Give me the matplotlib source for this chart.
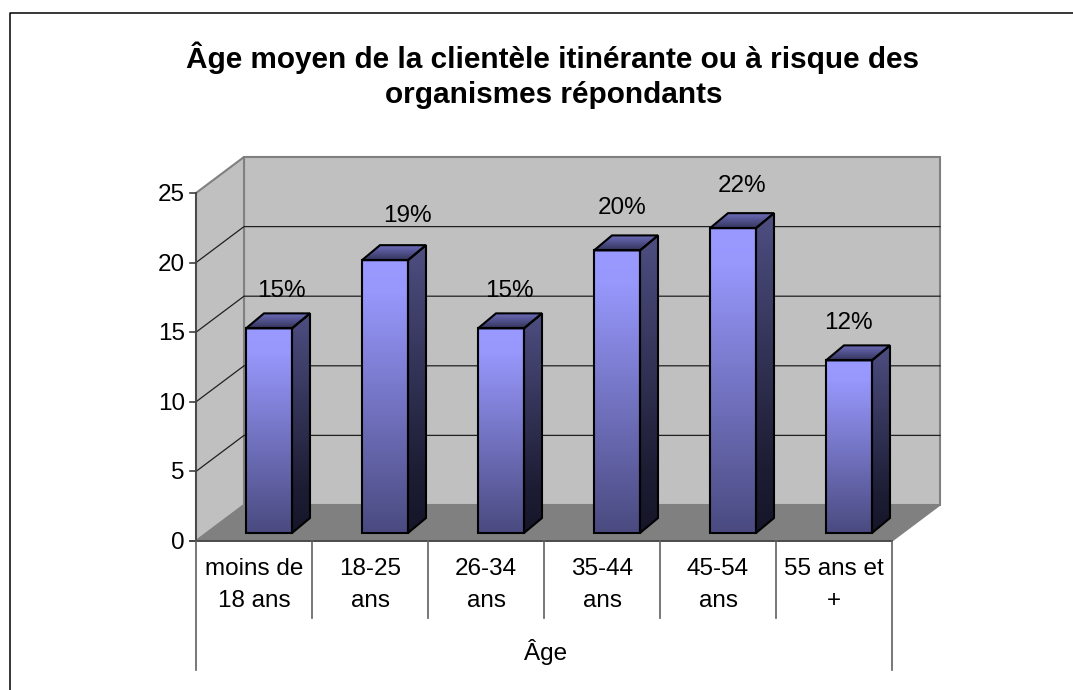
import matplotlib
matplotlib.use('Agg')
import matplotlib.pyplot as plt
from matplotlib.colors import LinearSegmentedColormap
from matplotlib.lines import Line2D
from matplotlib.patches import Polygon
import numpy as np

plt.rcParams['font.family'] = ['Liberation Sans', 'DejaVu Sans']

#==============================

title_lines = ['Âge moyen de la clientèle itinérante ou à risque des', 'organismes répondants']
categories = ['moins de\n18 ans', '18-25\nans', '26-34\nans', '35-44\nans', '45-54\nans', '55 ans et\n+']
values = [14.7, 19.6, 14.7, 20.3, 21.9, 12.4]
labels = ['15%', '19%', '15%', '20%', '22%', '12%']
y_ticks = [0, 5, 10, 15, 20, 25]
group_label = 'Âge'

#==============================

W, H = 1073, 690
fig = plt.figure(figsize=(W / 100, H / 100), dpi=100)
ax = fig.add_axes([196 / W, (H - 541) / H, 696 / W, 348 / H])
ax.set_xlim(0, 6)
ax.set_ylim(0, 25)
ax.axis('off')

px = 6 / 696   # data units per pixel
py = 25 / 348
depth_x, depth_y = 48 * px, 36 * py

gray = '#808080'
wall = '#c0c0c0'
fs = 17.5

# chart frame: only top and left are inside the picture
fig.add_artist(Line2D([9.5 / W, 9.5 / W, 1], [0, 1 - 12.5 / H, 1 - 12.5 / H], color='black', lw=1.1))

# walls and floor
ax.add_patch(Polygon([(depth_x, depth_y), (6 + depth_x, depth_y), (6 + depth_x, 25 + depth_y), (depth_x, 25 + depth_y)],
                     fc=wall, ec=gray, lw=1.5, clip_on=False, zorder=1))
ax.add_patch(Polygon([(0, 0), (depth_x, depth_y), (depth_x, 25 + depth_y), (0, 25)],
                     fc=wall, ec=gray, lw=1.5, clip_on=False, zorder=1))
ax.add_patch(Polygon([(0, 0), (6, 0), (6 + depth_x, depth_y), (depth_x, depth_y)],
                     fc=gray, ec=gray, lw=1, clip_on=False, zorder=1))

# gridlines
for t in y_ticks[1:-1]:
    ax.plot([0, depth_x, 6 + depth_x], [t, t + depth_y, t + depth_y], color='#202020', lw=0.9, clip_on=False, zorder=2)

# y axis
ax.plot([0, 0], [0, 25], color='#404040', lw=1.2, clip_on=False, zorder=3)
ax.plot([-6 * px, 6], [0, 0], color='#404040', lw=1.2, clip_on=False, zorder=3)
for t in y_ticks:
    ax.plot([-6 * px, 0], [t, t], color='#404040', lw=1.2, clip_on=False, zorder=3)
    ax.text(-11 * px, t - 2 * py, str(t), ha='right', va='center', fontsize=fs, color='black')

# bars
front_cmap = LinearSegmentedColormap.from_list('front', [(0, '#9999ff'), (0.12, '#9797fc'), (1, '#4a4a80')])
side_cmap = LinearSegmentedColormap.from_list('side', [(0, '#4e4e82'), (0.8, '#1c1c33'), (1, '#16162a')])
top_cmap = LinearSegmentedColormap.from_list('top', ['#6e6ebd', '#34345c'])
grad = np.linspace(0, 1, 256).reshape(-1, 1)

bar_w = 46 * px
bar_off = 15 * px
bar_dx, bar_dy = 18 * px, 15 * py
base = 8 * py


def face(points, cmap):
    points = np.array(points)
    im = ax.imshow(grad, cmap=cmap, aspect='auto', zorder=5,
                   extent=(points[:, 0].min(), points[:, 0].max(), points[:, 1].min(), points[:, 1].max()))
    poly = Polygon(points, fc='none', ec='black', lw=1.5, clip_on=False, zorder=6, joinstyle='miter')
    ax.add_patch(poly)
    im.set_clip_path(poly)


for i, v in enumerate(values):
    x0 = i + 0.5 + bar_off - bar_w / 2
    x1 = x0 + bar_w
    y1 = base + v
    face([(x0, base), (x1, base), (x1, y1), (x0, y1)], front_cmap)
    face([(x1, base), (x1 + bar_dx, base + bar_dy), (x1 + bar_dx, y1 + bar_dy), (x1, y1)], side_cmap)
    face([(x0, y1), (x1, y1), (x1 + bar_dx, y1 + bar_dy), (x0 + bar_dx, y1 + bar_dy)], top_cmap)

ax.set_xlim(0, 6)
ax.set_ylim(0, 25)

# data labels, hand placed in the original: pixel shift from bar centre and height above bar
label_shift = [12, 22, 8, 5, 9, -1]
label_rise = [37, 44, 37, 42, 42, 37]
for i, (v, lab) in enumerate(zip(values, labels)):
    ax.text(i + 0.5 + bar_off + label_shift[i] * px, base + v + label_rise[i] * py, lab,
            ha='center', va='center', fontsize=fs, color='black', zorder=7, clip_on=False)

# category table below the axis
for i, c in enumerate(categories):
    ax.text(i + 0.5, -44 * py, c, ha='center', va='center', fontsize=fs, linespacing=1.55, color='black')
for i in range(7):
    low = 129 if i in (0, 6) else 77
    ax.plot([i, i], [0, -low * py], color='#606060', lw=1.2, clip_on=False, zorder=3)
ax.text(3 + 2 * px, -111 * py, group_label, ha='center', va='center', fontsize=fs, color='black')

fig.text(552 / W, 1 - 58 / H, title_lines[0], ha='center', va='center', fontsize=21.4, fontweight='bold')
fig.text(554 / W, 1 - 95 / H, title_lines[1], ha='center', va='center', fontsize=21.4, fontweight='bold')

fig.savefig('out.png', dpi=100)
